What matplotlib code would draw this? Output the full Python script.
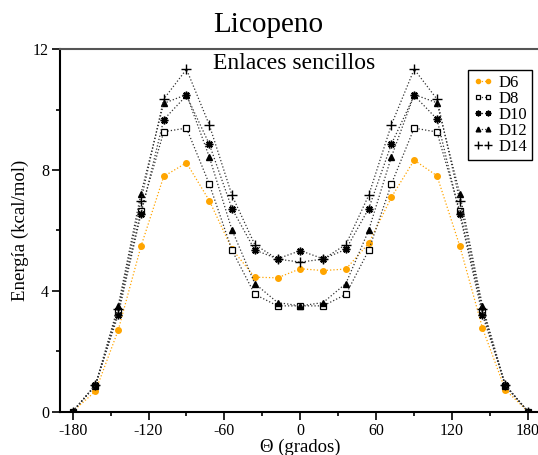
import matplotlib
matplotlib.use("Agg")
import matplotlib.pyplot as plt
import numpy as np

plt.rcParams['font.family'] = ['Liberation Serif', 'DejaVu Serif']
plt.rcParams['axes.unicode_minus'] = False

# angulos (grados)
theta = [-180, -162, -144, -126, -108, -90, -72, -54, -36, -18, 0,
         18, 36, 54, 72, 90, 108, 126, 144, 162, 180]

d6 = [0, 0.67, 2.69, 5.47, 7.79, 8.24, 6.99, 5.38, 4.45, 4.43, 4.73,
      4.67, 4.72, 5.57, 7.10, 8.33, 7.81, 5.49, 2.76, 0.72, 0]
d8 = [0, 0.85, 3.33, 6.65, 9.27, 9.39, 7.54, 5.34, 3.88, 3.50, 3.50,
      3.50, 3.88, 5.34, 7.54, 9.39, 9.26, 6.65, 3.33, 0.85, 0]
d10 = [0, 0.87, 3.20, 6.54, 9.67, 10.47, 8.86, 6.72, 5.35, 5.06, 5.33,
       5.06, 5.37, 6.72, 8.86, 10.47, 9.69, 6.54, 3.20, 0.87, 0]
d12 = [0, 0.88, 3.50, 7.22, 10.21, 10.50, 8.44, 6.01, 4.24, 3.61, 3.50,
       3.61, 4.24, 6.00, 8.44, 10.50, 10.23, 7.22, 3.50, 0.88, 0]
d14 = [0, 0.87, 3.40, 6.99, 10.35, 11.34, 9.50, 7.16, 5.53, 5.05, 4.95,
       5.05, 5.53, 7.16, 9.50, 11.34, 10.35, 6.99, 3.40, 0.87, 0]

fig = plt.figure(figsize=(5.38, 4.55), dpi=100)
ax = fig.add_axes([0.1115, 0.0956, 0.8935, 0.796])

lw = 0.9
ax.plot(theta, d6, color='#FFA500', ls=':', lw=lw, marker='o', ms=4,
        mec='#FFA500', mfc='#FFA500', label="D6")
ax.plot(theta, d8, color='#333333', ls=':', lw=lw, marker='s', ms=4,
        mec='black', mfc='white', mew=0.9, label="D8")
ax.plot(theta, d10, color='#333333', ls=':', lw=lw, marker=(8, 2, 0), ms=5.5,
        mec='black', mew=1.1, label="D10")
ax.plot(theta, d12, color='#333333', ls=':', lw=lw, marker='^', ms=4.5,
        mec='black', mfc='black', label="D12")
ax.plot(theta, d14, color='#333333', ls=':', lw=lw, marker='+', ms=7,
        mec='black', mew=1.0, label="D14")

ax.set_xlim(-190, 190)
ax.set_ylim(0, 12)
ax.set_xticks(np.arange(-180, 181, 60))
ax.set_xticks(np.arange(-150, 181, 60), minor=True)
ax.set_yticks([0, 4, 8, 12])
ax.set_yticks([2, 6, 10], minor=True)
ax.tick_params(which='major', direction='out', length=6, width=1.2,
               labelsize=11.5, pad=2)
ax.tick_params(which='minor', direction='out', length=3, width=1.2)

for s in ['left', 'bottom']:
    ax.spines[s].set_linewidth(1.5)
ax.spines['top'].set_linewidth(1.5)
ax.spines['top'].set_color('#555555')

ax.set_xlabel("Θ (grados)", fontsize=13.5, labelpad=0)
ax.set_ylabel("Energía (kcal/mol)", fontsize=13.5, labelpad=3)

fig.text(0.498, 0.945, "Licopeno", ha='center', va='center', fontsize=21)
ax.text(0.487, 0.962, "Enlaces sencillos", transform=ax.transAxes,
        ha='center', va='center', fontsize=17)

leg = ax.legend(loc='upper right', bbox_to_anchor=(0.982, 0.943),
                borderaxespad=0, fancybox=False, edgecolor='black',
                framealpha=1, fontsize=12, numpoints=2, handlelength=1.2,
                markerscale=0.75, handletextpad=0.3, labelspacing=0.0,
                borderpad=0.3)
leg.get_frame().set_linewidth(1.0)

fig.savefig("out.png", dpi=100)
